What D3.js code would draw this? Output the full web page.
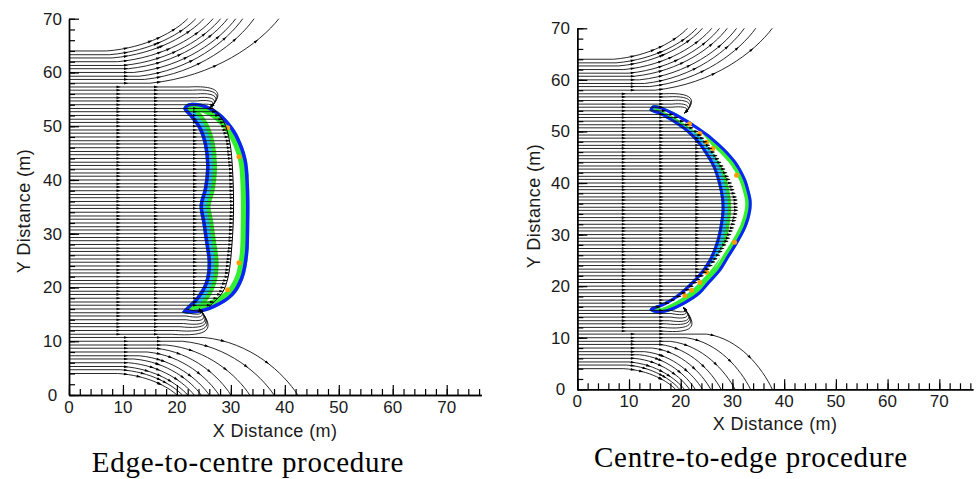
<!DOCTYPE html>
<html><head><meta charset="utf-8">
<script src="https://cdn.jsdelivr.net/npm/d3@7/dist/d3.min.js"></script>
<style>html,body{margin:0;padding:0;background:#fff;}svg{display:block;}</style>
</head><body>
<svg id="chart" width="977" height="479"></svg>
<script>
// ---------------- DATA ----------------
const xTicks=[0,10,20,30,40,50,60,70];
const yTicks=[0,10,20,30,40,50,60,70];
const captions=["Edge-to-centre procedure","Centre-to-edge procedure"];
const xTitle="X Distance (m)", yTitle="Y Distance (m)";

// y (m) at which each streamline leaves the left boundary x = 0
const startY=[4.0,4.7,5.3,6.0,6.7,7.3,8.0,8.7,9.3,10.0,
10.7,11.3,12.0,12.7,13.3,14.0,14.7,15.3,16.0,16.7,
17.3,18.0,18.7,19.3,20.0,20.7,21.3,22.0,22.7,23.3,
24.0,24.7,25.3,26.0,26.7,27.3,28.0,28.7,29.3,30.0,
30.7,31.3,32.0,32.7,33.3,34.0,34.7,35.3,36.0,36.7,
37.3,38.0,38.7,39.3,40.0,40.7,41.3,42.0,42.7,43.3,
44.0,44.7,45.3,46.0,46.7,47.3,48.0,48.7,49.3,50.0,
50.7,51.3,52.0,52.7,53.3,54.0,54.7,55.3,56.0,56.7,
57.3,58.0,58.7,59.3,60.0,60.7,61.3,62.0,62.7,63.3,
64.0];
// x at which the upper group bends upward (top line first)
const upperBendX=[7,7.5,8,9,10,11,12,13,14,15];
// x at which the lower group bends downward (lowest line first)
const lowerBendX=[9,9.5,10,11,12,13,14.5,16,18,21,25];

// ---- Left panel: edge-to-centre ----
const leftInner=[[21.2,53.3],[22.5,51.6],[24.0,49.5],[25.0,46.5],[25.4,42.5],[25.0,38.5],[24.2,35.3],[24.7,32.0],[25.2,28.5],[25.7,24.5],[25.2,21.0],[23.6,18.2],[21.6,16.2]];
const leftOuter=[[21.0,15.4],[23.5,15.2],[27.0,16.2],[30.4,18.4],[32.3,21.6],[33.2,26.0],[33.4,31.0],[33.4,38.0],[33.0,43.5],[32.0,46.8],[30.4,49.8],[27.8,52.6],[24.6,54.2],[22.0,54.2]];
const leftBack=[[26.5,53.5],[28.6,51.0],[29.8,47.0],[30.3,42.0],[30.5,35.0],[30.2,28.0],[29.5,22.0],[28.4,19.0],[26.0,16.5]];
const leftOrange=[[29.4,49.7],[31.5,44.3],[31.5,24.6],[29.4,19.6]];
const leftUpperExit=[22.0,23.5,25.0,26.7,28.1,29.4,30.9,32.2,34.3,38.9];
const leftLowerExit=[20.0,21.0,22.0,23.2,24.5,26.0,27.8,30.0,33.5,38.0,42.4];
const leftArrowCols=[9.1,16.1,23.2];
const leftGroupCols=[10.5,16.5];
const leftTopLoopEnd=[26.3,53.6];
const leftBottomLoopEnd=[24.2,16.0];

// ---- Right panel: centre-to-edge ----
const rightInner=[[14.0,54.1],[16.0,53.2],[18.5,51.8],[21.0,50.0],[23.0,48.0],[24.8,45.5],[26.2,43.0],[27.2,40.0],[27.8,37.0],[27.9,34.7],[27.5,31.5],[26.8,28.5],[25.6,25.5],[24.0,23.0],[22.3,21.1],[20.3,19.2],[18.5,17.8],[16.3,16.6],[14.4,15.9]];
const rightOuter=[[14.0,15.4],[15.2,14.8],[17.5,15.0],[21.2,16.7],[23.8,18.5],[25.6,20.5],[27.8,23.0],[29.4,25.6],[31.2,28.5],[32.7,31.4],[33.6,34.5],[33.7,36.6],[33.3,38.5],[32.5,41.0],[30.7,44.2],[28.5,46.7],[26.2,48.8],[23.5,50.8],[21.2,52.3],[18.5,53.8],[16.0,54.9],[14.5,55.0]];
const rightBack=[[16.2,54.4],[18.5,53.3],[21.0,51.7],[23.3,50.0],[25.2,47.8],[27.0,45.3],[28.6,42.6],[30.0,39.6],[30.9,36.8],[31.0,34.5],[30.4,31.8],[29.3,29.0],[27.8,26.4],[26.0,23.9],[24.0,21.6],[22.0,19.6],[20.0,18.0],[17.5,16.6],[16.0,16.0]];
const rightOrange=[[21.7,51.5],[23.7,49.6],[25.0,47.9],[26.2,46.7],[30.8,41.5],[30.4,28.5],[25.0,22.7],[23.7,20.7],[22.1,19.2],[20.8,18.2]];
const rightUpperExit=[21.3,23.1,24.2,26.0,27.5,29.0,30.8,32.3,34.5,37.7];
const rightLowerExit=[19.0,19.8,20.7,21.7,22.8,24.2,25.8,27.8,30.5,33.5,37.7];
const rightArrowCols=[8.9,16.0,23.0];
const rightGroupCols=[10.5,16.0];
const rightTopLoopEnd=[20.8,53.6];
const rightBottomLoopEnd=[20.6,15.8];

// ---------------- STYLE / LAYOUT ----------------
const BLUE="#0d22ff", CYAN="#2ec8ff", GREEN="#30f030", ORANGE="#ff9c00";
const SANS="'Liberation Sans', Arial, sans-serif";
const SERIF="'Liberation Serif', 'Times New Roman', serif";

const layouts=[
 {id:"L", xr:[69,446.7], yr:[395,18.7], xEnd:76.4, yLabX:52.5, xLabBase:413, yTitlePos:[30,211], xTitlePos:[275,437], capPos:[248,471.5],
  bands:{ig:22,ic:14,og:17,b:7,mid:0}, backLine:1.0},
 {id:"R", xr:[577.3,939.3], yr:[389.3,28.3], xEnd:76.5, yLabX:560.5, xLabBase:407, yTitlePos:[540,206], xTitlePos:[775,430], capPos:[751,467],
  bands:{ig:19,ic:13,og:13,b:6,mid:3.5}, backLine:0}
];
const panelData=[
 {inner:leftInner,outer:leftOuter,back:leftBack,orange:leftOrange,upperExit:leftUpperExit,lowerExit:leftLowerExit,cols:leftArrowCols,gcols:leftGroupCols,topEnd:leftTopLoopEnd,botEnd:leftBottomLoopEnd,caption:captions[0]},
 {inner:rightInner,outer:rightOuter,back:rightBack,orange:rightOrange,upperExit:rightUpperExit,lowerExit:rightLowerExit,cols:rightArrowCols,gcols:rightGroupCols,topEnd:rightTopLoopEnd,botEnd:rightBottomLoopEnd,caption:captions[1]}
];

const svg=d3.select("#chart");
const defs=svg.append("defs");

function addArrows(g,node,colPx,fracs,endArrow){
  const L=node.getTotalLength();
  const marks=[];
  if(colPx.length){
    const pts=[];
    for(let l=0;l<=L;l+=1.5) pts.push([l,node.getPointAtLength(l)]);
    colPx.forEach(xc=>{
      for(let i=1;i<pts.length;i++){
        if(pts[i-1][1].x<xc && pts[i][1].x>=xc){ if(pts[i][0]<L-4) marks.push(pts[i][0]); break; }
      }
    });
  }
  fracs.forEach(f=>marks.push(f*L));
  if(endArrow) marks.push(L-1.5);
  marks.forEach(l=>{
    const a=node.getPointAtLength(Math.max(0,l-1.5)), b=node.getPointAtLength(Math.min(L,l+1.5));
    const ang=Math.atan2(b.y-a.y,b.x-a.x)*180/Math.PI;
    g.append("path").attr("d","M2.3,0L-2,-1.35L-2,1.35Z")
      .attr("transform",`translate(${(a.x+b.x)/2},${(a.y+b.y)/2}) rotate(${ang})`)
      .attr("fill","#000");
  });
}

layouts.forEach((lay,pi)=>{
  const p=panelData[pi];
  const x=d3.scaleLinear().domain([0,70]).range(lay.xr);
  const y=d3.scaleLinear().domain([0,70]).range(lay.yr);
  const g=svg.append("g");

  defs.append("clipPath").attr("id","plot"+lay.id).append("rect")
    .attr("x",x(0)).attr("y",y(70)-1).attr("width",x(lay.xEnd)-x(0)).attr("height",y(0)-y(70)+1);

  // ---- structure (contour bands) ----
  const closedLine=d3.line().x(d=>x(d[0])).y(d=>y(d[1])).curve(d3.curveCatmullRomClosed.alpha(0.5));
  const openLine=d3.line().x(d=>x(d[0])).y(d=>y(d[1])).curve(d3.curveCatmullRom.alpha(0.5));
  const region=p.inner.concat(p.outer);
  defs.append("clipPath").attr("id","reg"+lay.id).append("path").attr("d",closedLine(region));
  const sg=g.append("g").attr("clip-path",`url(#reg${lay.id})`);
  sg.append("path").attr("d",closedLine(region)).attr("fill","#fff");
  sg.append("path").attr("d",openLine(p.inner)).attr("fill","none").attr("stroke",GREEN).attr("stroke-width",lay.bands.ig).attr("stroke-linecap","round");
  sg.append("path").attr("d",openLine(p.inner)).attr("fill","none").attr("stroke",CYAN).attr("stroke-width",lay.bands.ic).attr("stroke-linecap","round");
  sg.append("path").attr("d",openLine(p.outer)).attr("fill","none").attr("stroke",GREEN).attr("stroke-width",lay.bands.og).attr("stroke-linecap","round");
  if(lay.bands.mid>0){
    sg.append("path").attr("d",openLine(p.back)).attr("fill","none").attr("stroke","#fff").attr("stroke-width",lay.bands.mid);
  }
  sg.append("path").attr("d",closedLine(region)).attr("fill","none").attr("stroke",BLUE).attr("stroke-width",lay.bands.b);
  sg.selectAll("circle.or").data(p.orange).join("circle").attr("class","or")
    .attr("cx",d=>x(d[0])).attr("cy",d=>y(d[1])).attr("r",2.5).attr("fill",ORANGE);

  // ---- streamlines ----
  const lg=g.append("g").attr("clip-path",`url(#plot${lay.id})`);
  const ag=g.append("g").attr("clip-path",`url(#plot${lay.id})`);
  const backX=d3.scaleLinear().domain(p.back.map(d=>d[1])).range(p.back.map(d=>d[0]));
  const bys=p.back.map(d=>d[1]);
  const bMin=d3.min(bys), bMax=d3.max(bys);
  const nLow=p.lowerExit.length, nUp=p.upperExit.length, N=startY.length;
  const colPx=p.cols.map(c=>x(c));
  const gcolPx=p.gcols.map(c=>x(c));

  function draw(pathStr){
    return lg.append("path").attr("d",pathStr).attr("fill","none").attr("stroke","#111").attr("stroke-width",0.9).node();
  }

  startY.forEach((y0,i)=>{
    const ps=d3.path();
    ps.moveTo(x(0),y(y0));
    if(i<nLow){
      const xe=p.lowerExit[i], xb=lowerBendX[i], dx=xe-xb;
      ps.lineTo(x(xb),y(y0));
      ps.bezierCurveTo(x(xb+0.5*dx),y(y0*0.92),x(xe-0.15*dx),y(0.38*y0),x(xe),y(0));
      const n=draw(ps.toString());
      addArrows(ag,n,gcolPx,[0.62,0.82],false);
    } else if(i>=N-nUp){
      const k=N-1-i;
      const xe=p.upperExit[k], xb=upperBendX[k], dx=xe-xb, dy=70-y0;
      ps.lineTo(x(xb),y(y0));
      ps.bezierCurveTo(x(xb+0.5*dx),y(y0+0.1*dy),x(xe-0.15*dx),y(70-0.38*dy),x(xe),y(70));
      const n=draw(ps.toString());
      addArrows(ag,n,gcolPx,[0.65,0.86],false);
    } else if(y0>bMax){
      const E=p.topEnd, r=y0-E[1];
      const xs=Math.max(p.cols[1]+0.3,E[0]-Math.max(2.5,r*1.1));
      const dx=E[0]-xs;
      ps.lineTo(x(xs),y(y0));
      ps.bezierCurveTo(x(xs+dx*0.8+0.6*r),y(y0+0.3),x(E[0]+0.55*r+0.5),y(E[1]+0.7*r),x(E[0]),y(E[1]));
      const n=draw(ps.toString());
      addArrows(ag,n,colPx.slice(0,2),[],true);
    } else if(y0<bMin){
      const E=p.botEnd, r=E[1]-y0;
      const xs=Math.max(p.cols[1]+0.3,E[0]-Math.max(2.5,r*1.1));
      const dx=E[0]-xs;
      ps.lineTo(x(xs),y(y0));
      ps.bezierCurveTo(x(xs+dx*0.8+0.6*r),y(y0-0.5),x(E[0]+0.55*r+0.5),y(E[1]-0.7*r-0.5),x(E[0]),y(E[1]));
      const n=draw(ps.toString());
      addArrows(ag,n,colPx.slice(0,2),[],true);
    } else {
      const xe=backX(y0);
      ps.lineTo(x(xe),y(y0));
      const n=draw(ps.toString());
      addArrows(ag,n,colPx.filter(c=>c<x(xe)-6),[],true);
    }
  });
  if(lay.backLine>0){
    g.append("path").attr("d",openLine(p.back)).attr("fill","none").attr("stroke","#000").attr("stroke-width",lay.backLine);
  }

  // ---- axes ----
  const xa=d3.scaleLinear().domain([0,lay.xEnd]).range([x(0),x(lay.xEnd)]);
  const ya=d3.scaleLinear().domain([0,70]).range([y(0),y(70)]);
  const minorX=d3.range(0,lay.xEnd,2), minorY=d3.range(0,71,2);
  const ax=g.append("g").attr("transform",`translate(0,${y(0)})`);
  ax.call(d3.axisBottom(xa).tickValues(minorX).tickSize(-6).tickSizeOuter(0).tickFormat(""));
  ax.append("g").call(d3.axisBottom(xa).tickValues(xTicks).tickSize(-10).tickSizeOuter(0).tickFormat(""));
  const ayg=g.append("g").attr("transform",`translate(${x(0)},0)`);
  ayg.call(d3.axisLeft(ya).tickValues(minorY).tickSize(-6).tickSizeOuter(0).tickFormat(""));
  ayg.append("g").call(d3.axisLeft(ya).tickValues(yTicks).tickSize(-10).tickSizeOuter(0).tickFormat(""));
  g.selectAll(".domain").attr("stroke","#000").attr("stroke-width",1.4);
  g.selectAll(".tick line").attr("stroke","#000").attr("stroke-width",1.2);

  g.selectAll("text.xl").data(xTicks).join("text").attr("class","xl")
    .attr("x",d=>x(d)).attr("y",lay.xLabBase).attr("text-anchor","middle")
    .attr("font-family",SANS).attr("font-size",17).attr("fill","#1a1a1a").text(d=>d);
  g.selectAll("text.yl").data(yTicks).join("text").attr("class","yl")
    .attr("x",lay.yLabX).attr("y",d=>y(d)+6).attr("text-anchor","middle")
    .attr("font-family",SANS).attr("font-size",17).attr("fill","#1a1a1a").text(d=>d);

  g.append("text").attr("x",lay.xTitlePos[0]).attr("y",lay.xTitlePos[1]).attr("text-anchor","middle")
    .attr("font-family",SANS).attr("font-size",18).attr("letter-spacing",0.4).attr("fill","#1a1a1a").text(xTitle);
  g.append("text").attr("transform",`translate(${lay.yTitlePos[0]},${lay.yTitlePos[1]}) rotate(-90)`).attr("text-anchor","middle")
    .attr("font-family",SANS).attr("font-size",18).attr("letter-spacing",0.4).attr("fill","#1a1a1a").text(yTitle);
  g.append("text").attr("x",lay.capPos[0]).attr("y",lay.capPos[1]).attr("text-anchor","middle")
    .attr("font-family",SERIF).attr("font-size",29).attr("letter-spacing",0.7).attr("fill","#000").text(p.caption);
});
</script>
</body></html>
